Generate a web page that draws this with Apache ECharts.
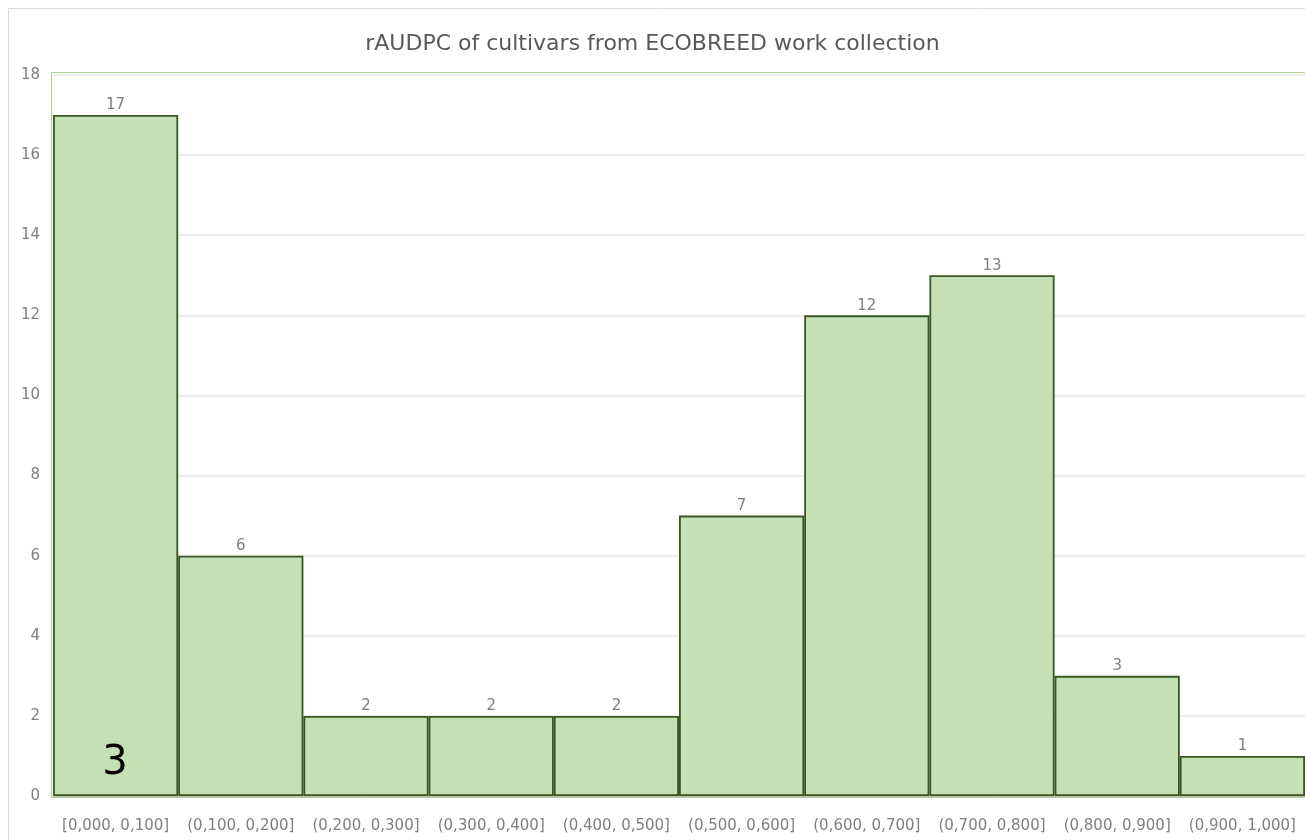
<!DOCTYPE html>
<html>
<head>
<meta charset="utf-8">
<script src="https://cdn.jsdelivr.net/npm/echarts@6/dist/echarts.min.js"></script>
<style>
  html, body { margin: 0; padding: 0; background: #ffffff; }
  #chart { width: 1305px; height: 840px; }
</style>
</head>
<body>
<div id="chart"></div>
<script>
// rAUDPC class intervals and cultivar counts per class
const categories = [
  '[0,000, 0,100]', '(0,100, 0,200]', '(0,200, 0,300]', '(0,300, 0,400]', '(0,400, 0,500]',
  '(0,500, 0,600]', '(0,600, 0,700]', '(0,700, 0,800]', '(0,800, 0,900]', '(0,900, 1,000]'
];
const counts = [17, 6, 2, 2, 2, 7, 12, 13, 3, 1];
const yTicks = { min: 0, max: 18, interval: 2 };

const FONT = 'DejaVu Sans';
const chart = echarts.init(document.getElementById('chart'), null, { renderer: 'canvas' });

chart.setOption({
  animation: false,
  backgroundColor: '#ffffff',
  textStyle: { fontFamily: FONT },
  title: {
    text: 'rAUDPC of cultivars from ECOBREED work collection',
    left: 'center',
    top: 28,
    textStyle: { color: '#595959', fontSize: 22, fontWeight: 'normal', fontFamily: FONT }
  },
  grid: { left: 53, right: 0, top: 75, bottom: 44, containLabel: false },
  graphic: [
    // outer chart frame
    { type: 'rect', shape: { x: 8.5, y: 8.5, width: 1400, height: 900 },
      style: { fill: 'none', stroke: '#d9d9d9', lineWidth: 1 }, z: -1 },
    // plot area frame
    { type: 'rect', shape: { x: 51.5, y: 72.5, width: 1300, height: 725 },
      style: { fill: 'none', stroke: '#a9d18e', lineWidth: 1 }, z: -1 },
    // panel number
    { type: 'text', x: 115, y: 764, z: 100,
      style: { text: '3', fill: '#000000', fontSize: 40, fontFamily: FONT,
               textAlign: 'center', textVerticalAlign: 'middle' } }
  ],
  xAxis: {
    type: 'category',
    data: categories,
    axisLine: { show: true, lineStyle: { color: '#bfbfbf', width: 1 } },
    axisTick: { show: false },
    axisLabel: { color: '#7f7f7f', fontSize: 15, margin: 23, interval: 0, fontFamily: FONT },
    splitLine: { show: false }
  },
  yAxis: {
    type: 'value',
    min: yTicks.min,
    max: yTicks.max,
    interval: yTicks.interval,
    axisLine: { show: false },
    axisTick: { show: false },
    axisLabel: { color: '#7f7f7f', fontSize: 15, margin: 13, fontFamily: FONT },
    splitLine: { lineStyle: { color: '#e3e3e3', width: 1.5 } }
  },
  series: [{
    type: 'bar',
    data: counts,
    barWidth: '100%',
    barCategoryGap: 0,
    itemStyle: { color: '#c5e0b4', borderColor: '#385723', borderWidth: 1.8 },
    label: {
      show: true,
      position: 'top',
      distance: 2,
      color: '#7f7f7f',
      fontSize: 15,
      fontFamily: FONT
    }
  }]
});
</script>
</body>
</html>
